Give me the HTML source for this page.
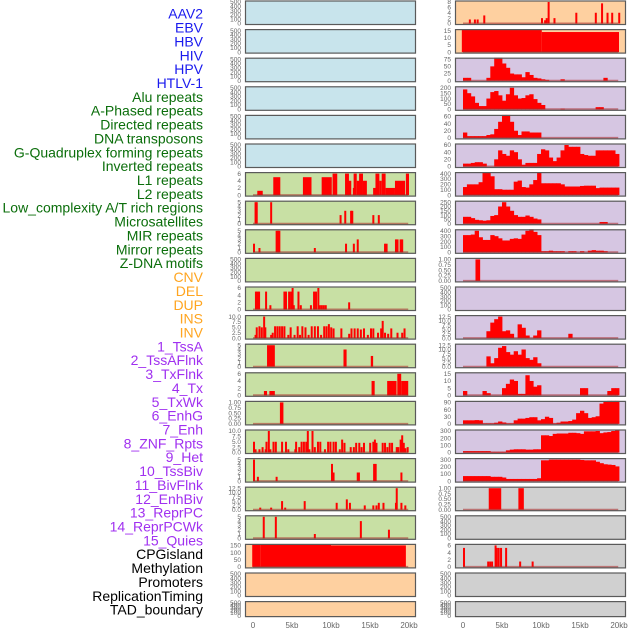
<!DOCTYPE html>
<html><head><meta charset="utf-8">
<style>
html,body{margin:0;padding:0;background:#fff;}
svg{display:block;font-family:"Liberation Sans",sans-serif;}
</style></head>
<body>
<svg id="chart" width="630" height="630" viewBox="0 0 630 630" xmlns="http://www.w3.org/2000/svg"></svg>
<script>
// ---------- labels ----------
const trackLabels = ["AAV2","EBV","HBV","HIV","HPV","HTLV-1","Alu repeats","A-Phased repeats","Directed repeats","DNA transposons","G-Quadruplex forming repeats","Inverted repeats","L1 repeats","L2 repeats","Low_complexity A/T rich regions","Microsatellites","MIR repeats","Mirror repeats","Z-DNA motifs","CNV","DEL","DUP","INS","INV","1_TssA","2_TssAFlnk","3_TxFlnk","4_Tx","5_TxWk","6_EnhG","7_Enh","8_ZNF_Rpts","9_Het","10_TssBiv","11_BivFlnk","12_EnhBiv","13_ReprPC","14_ReprPCWk","15_Quies","CPGisland","Methylation","Promoters","ReplicationTiming","TAD_boundary"];
const labelGroups = [6,13,5,15,5];
const xTickLabels = ["0","5kb","10kb","15kb","20kb"];
const xTickKb = [0,5,10,15,20];

// ---------- tick arrays ----------
const T500 = [0,100,200,300,400,500];
const T6 = [0,2,4,6];
const T5 = [0,1,2,3,4,5];
const T10 = [0.0,2.5,5.0,7.5,10.0];
const T125 = [0.0,2.5,5.0,7.5,10.0,12.5];
const T1 = [0.00,0.25,0.50,0.75,1.00];
const T150 = [0,50,100,150];
const T8 = [0,2,4,6,8];
const T15 = [0,5,10,15];
const T75 = [0,25,50,75];
const T200 = [0,50,100,150,200];
const T60 = [0,20,40,60];
const T400 = [0,100,200,300,400];
const T250 = [0,50,100,150,200,250];
const T90 = [0,30,60,90];
const T300 = [0,100,200,300];

// ---------- left column data ----------
const L6_start = [0.55,2.6,6.4,8.8,10.2,11.8,12.2,12.8,12.9,13.3,13.6,14.1,15.4,15.7,16.2,16.5,17.0,18.2,19.6];
const L6_end   = [1.25,3.5,7.5,10.1,10.8,12.3,12.6,13.0,13.3,13.7,14.1,14.6,15.8,16.2,16.5,17.0,18.2,19.5,20.0];
const L6_val   = [1.2,5,5,5,6,6,4,2,6,4,6,4,2,6,4,6,2,4,6];

const L7_pos = [0.2,0.35,2.2,11.1,11.7,12.45,12.6,15.3,16.0];
const L7_val = [5,5,5,2,3,3,3,2,2];

const L8_pos = [0.0,0.7,2.9,3.1,3.25,7.8,11.8,12.8,13.3,16.8,17.0,18.2,18.4,18.8,19.0];
const L8_val = [2,1,5,5,5,1,2,2,3,2,2,3,3,3,3];

const L10_pos = [0.25,0.45,0.65,1.55,2.1,3.9,4.1,4.5,4.75,4.95,5.1,5.7,6.0,7.3,7.7,7.95,8.25,8.45,8.7,8.95,9.2,12.2];
const L10_val = [5,5,5,5,1.2,5,5,5,5,6,1.2,5,1.2,1.2,5,5,6,1.2,1.2,1.2,1.2,2];

const L11_pos = [0.2,0.35,0.7,1.0,1.3,1.45,2.2,2.4,2.7,3.0,3.3,3.6,3.9,4.4,4.7,5.2,5.6,5.9,6.2,6.6,7.0,7.4,7.8,8.2,8.6,9.0,9.3,9.6,9.9,10.2,11.2,12.2,12.5,12.9,13.3,13.7,14.1,14.6,15.0,15.3,15.9,16.3,16.5,16.8,17.2,17.6,18.4,19.0,19.3];
const L11_val = [1.5,5,5.5,5,10,5,1.5,2.5,5.5,5.5,5.5,5.5,5.5,1.5,5,1.5,5.5,1.5,5.5,5,1.5,5.5,5.5,5.5,1.5,5.5,5.5,6.5,5,4.5,4.5,2,4.5,4.5,4.5,4,4.5,1.5,4.5,4.5,2.5,4.5,8,2.5,2,4.5,2.5,2.5,4.5];

const L12_start = [1.8,11.6,15.1];
const L12_end   = [2.8,12.0,15.4];
const L12_val   = [5,4,2.5];

const L13_start = [1.4,2.1,15.2,17.2,18.5,19.0];
const L13_end   = [1.8,2.8,15.6,18.4,19.0,19.9];
const L13_val   = [1.2,1.2,4,4,6,4];

const L14_start = [3.45];
const L14_end   = [3.9];
const L14_val   = [1];

const L15_pos = [0.0,0.2,0.7,1.1,1.5,1.6,1.9,2.1,2.5,2.8,3.6,4.1,4.4,5.3,5.4,5.8,6.1,6.4,6.7,6.9,7.1,7.5,7.8,8.2,8.5,9.1,9.5,9.8,10.2,10.5,11.0,11.3,11.6,12.4,12.8,13.1,13.5,13.8,14.1,14.9,15.3,15.5,15.7,16.5,16.8,17.1,17.4,17.7,18.3,18.5,18.8,19.0,19.2,19.4,19.7];
const L15_val = [5,1.5,1.5,2.5,1.5,5,10,1.5,5,5,5,5,1.5,1.5,5,2.5,5,5,5,10,1.5,10,2.5,5,5,1.5,5,5,5,5,1.5,6,4.5,2.5,2.5,4.5,4.5,2.5,4.5,4.5,5,6,4.5,4.5,4.5,2.5,4.5,4.5,2.5,2.5,6,8,4.5,2,2.5];

const L16_pos = [0.0,0.5,2.9,10.0,10.2,13.3,13.45,15.4,15.6,18.9];
const L16_val = [5,1,1,4,2,2,2,4,4,2];

const L17_pos = [0.8,2.2,3.6,4.0,6.5,10.6,11.9,12.3,14.2,15.3,15.7,16.0,16.6,18.2,18.3,18.9,19.4];
const L17_val = [1.2,1.2,5,1.2,5,4,6,4,2.5,2.5,2.5,4,4,4,12.5,4,2.5];

const L18_pos = [1.25,2.8,7.8,13.7,17.3];
const L18_val = [5,5,1,4,2];

const L19_start = [-0.1,1.0,10.0];
const L19_end   = [1.0,10.0,19.6];
const L19_val   = [160,155,150];

// ---------- right column data (40 bins of 0.5kb) ----------
const R0_pos = [0.75,1.4,1.75,2.6,10.0,10.4,10.6,10.85,11.6,14.4,16.9,17.7,18.4,19.0,19.9];
const R0_val = [1.5,1.5,1.5,3,2,1.2,2,8,2,4,4,7.5,4,4,4];

const R1_start = [-0.15,10.1];
const R1_end   = [10.1,20.0];
const R1_val   = [18,14];

const R2_bins = [10,10,0,0,0,0,10,50,90,85,60,45,25,22,22,12,30,20,10,8,5,3,0,0,0,5,0,0,0,0,0,0,0,0,0,0,10,0,0,0];
const R3_bins = [185,150,120,60,30,30,100,160,170,130,80,140,200,130,100,105,130,140,95,60,40,0,0,0,0,5,0,0,0,0,0,0,0,0,20,20,0,0,0,0];
const R4_bins = [15,5,5,5,5,5,8,10,25,45,65,65,45,20,8,18,18,15,15,15,0,0,0,0,0,0,0,0,0,0,0,0,0,0,0,0,0,0,0,0];
const R5_bins = [8,8,10,12,12,8,0,0,20,45,35,30,45,40,20,5,10,10,10,35,48,45,25,15,25,45,60,55,55,55,35,32,30,30,45,45,45,45,45,35];
const R6_bins = [150,200,200,200,240,420,420,350,110,110,100,100,100,250,270,150,140,200,280,450,220,220,220,220,220,200,160,160,160,160,170,175,175,175,130,140,140,140,140,140];
const R7_bins = [80,80,65,45,40,35,40,90,100,200,250,200,150,100,80,80,95,80,60,50,0,0,0,0,0,0,0,0,0,0,0,0,0,0,0,20,20,0,0,0];
const R8_bins = [320,320,330,400,280,230,230,320,300,260,220,220,250,260,250,330,400,440,380,320,20,20,30,20,20,20,0,20,20,0,20,0,30,40,30,30,20,0,0,0];
const R9_start = [1.6];
const R9_end   = [2.2];
const R9_val   = [1];
const R11_bins = [0,0,0,0,0,0,4,9,11,12.5,4,4.5,2.5,0,8,6,1.5,0,1.5,4.5,0,0,0,0,0,0,0,2.5,0,0,0,0,0,0,0,0,0,0,0,0];
const R12_bins = [0,0,0,0,0,0,6,2,5,11,12,8.5,7,9,7,10,5,4,5.5,2,0,0,0,0,0,0,0,0,0,0,0,0,0,0,0,0,0,0,0,0];
const R13_bins = [3,0,0,0,0,3,1.5,0,0,0,5,8,11,10,1,1,14,10,6,7,0,0,0,0,0,0,0,0,0,0,5,5,0,0,0,0,0,3,5,5];
const R14_bins = [15,15,15,16,15,2,2,2,5,10,6,2,2,15,22,22,25,28,28,15,20,30,25,2,5,10,10,12,18,45,55,45,25,28,32,85,95,100,102,100];
const R15_bins = [20,20,20,20,20,20,20,10,10,10,10,30,40,45,45,45,40,40,45,45,240,240,230,260,265,265,265,275,275,270,260,295,295,295,300,270,280,285,300,320];
const R16_bins = [70,70,70,70,70,70,70,60,60,60,50,30,30,30,30,30,30,30,30,40,290,290,300,300,300,300,300,300,300,300,295,290,290,290,270,250,235,230,225,205];
const R17_start = [3.3,7.1];
const R17_end   = [4.9,7.8];
const R17_val   = [1,1];
const R19_pos = [0.0,3.1,3.35,3.6,4.05,4.2,4.45,4.75,5.4,7.2,8.8];
const R19_val = [5.3,1.5,1.5,1.5,6,5.3,5.3,5.3,5.3,1.5,1.5];

// ---------- panel layout (column, row, background, ticks, data) ----------
const BG = {blue:"#c8e4ec", green:"#c8e0a4", orange:"#fed0a0", purple:"#d6c6e2", gray:"#d0d0d0"};
const panels = [];
for (let r=0;r<6;r++) panels.push({c:0,r:r,bg:"blue",ticks:T500});
panels.push({c:0,r:6,bg:"green",ticks:T6,blocks:[L6_start,L6_end,L6_val]});
panels.push({c:0,r:7,bg:"green",ticks:T5,spikes:[L7_pos,L7_val]});
panels.push({c:0,r:8,bg:"green",ticks:T5,spikes:[L8_pos,L8_val]});
panels.push({c:0,r:9,bg:"green",ticks:T500});
panels.push({c:0,r:10,bg:"green",ticks:T6,spikes:[L10_pos,L10_val]});
panels.push({c:0,r:11,bg:"green",ticks:T10,spikes:[L11_pos,L11_val]});
panels.push({c:0,r:12,bg:"green",ticks:T5,blocks:[L12_start,L12_end,L12_val]});
panels.push({c:0,r:13,bg:"green",ticks:T6,blocks:[L13_start,L13_end,L13_val]});
panels.push({c:0,r:14,bg:"green",ticks:T1,blocks:[L14_start,L14_end,L14_val]});
panels.push({c:0,r:15,bg:"green",ticks:T10,spikes:[L15_pos,L15_val]});
panels.push({c:0,r:16,bg:"green",ticks:T5,spikes:[L16_pos,L16_val]});
panels.push({c:0,r:17,bg:"green",ticks:T125,spikes:[L17_pos,L17_val]});
panels.push({c:0,r:18,bg:"green",ticks:T5,spikes:[L18_pos,L18_val]});
panels.push({c:0,r:19,bg:"orange",ticks:T150,blocks:[L19_start,L19_end,L19_val]});
panels.push({c:0,r:20,bg:"orange",ticks:T500});
panels.push({c:0,r:21,bg:"orange",ticks:T500});
panels.push({c:1,r:0,bg:"orange",ticks:T8,spikes:[R0_pos,R0_val]});
panels.push({c:1,r:1,bg:"orange",ticks:T15,blocks:[R1_start,R1_end,R1_val]});
panels.push({c:1,r:2,bg:"purple",ticks:T75,bins:R2_bins});
panels.push({c:1,r:3,bg:"purple",ticks:T200,bins:R3_bins});
panels.push({c:1,r:4,bg:"purple",ticks:T60,bins:R4_bins});
panels.push({c:1,r:5,bg:"purple",ticks:T60,bins:R5_bins});
panels.push({c:1,r:6,bg:"purple",ticks:T400,bins:R6_bins});
panels.push({c:1,r:7,bg:"purple",ticks:T250,bins:R7_bins});
panels.push({c:1,r:8,bg:"purple",ticks:T400,bins:R8_bins});
panels.push({c:1,r:9,bg:"purple",ticks:T1,blocks:[R9_start,R9_end,R9_val]});
panels.push({c:1,r:10,bg:"purple",ticks:T500});
panels.push({c:1,r:11,bg:"purple",ticks:T125,bins:R11_bins});
panels.push({c:1,r:12,bg:"purple",ticks:T125,bins:R12_bins});
panels.push({c:1,r:13,bg:"purple",ticks:T15,bins:R13_bins});
panels.push({c:1,r:14,bg:"purple",ticks:T90,bins:R14_bins});
panels.push({c:1,r:15,bg:"purple",ticks:T300,bins:R15_bins});
panels.push({c:1,r:16,bg:"purple",ticks:T300,bins:R16_bins});
panels.push({c:1,r:17,bg:"gray",ticks:T1,blocks:[R17_start,R17_end,R17_val]});
panels.push({c:1,r:18,bg:"gray",ticks:T500});
panels.push({c:1,r:19,bg:"gray",ticks:T6,spikes:[R19_pos,R19_val]});
panels.push({c:1,r:20,bg:"gray",ticks:T500});
panels.push({c:1,r:21,bg:"gray",ticks:T500});

// ---------- drawing ----------
const NS = "http://www.w3.org/2000/svg";
const svg = document.getElementById("chart");
function mk(tag, attrs, parent){
  const e = document.createElementNS(NS, tag);
  for (const k in attrs) e.setAttribute(k, attrs[k]);
  (parent||svg).appendChild(e);
  return e;
}
const COLX = [245,455];
const PW = 171;
const ZERO_OFF = 8;
const KBPX = 7.8;
function rowTop(r){ return 0.5 + r*28.6; }
function rowH(r){ return r===21 ? 16 : 24.5; }
function xScale(c, kb){ return COLX[c] + ZERO_OFF + kb*KBPX; }
function yScale(top, h, maxv, v){ return top + h - 1.5 - (v/maxv)*(h-3); }

// labels
const groupColors = ["#1a1aee","#0b6e0b","#ffa520","#a030f0","#000000"];
let li = 0;
labelGroups.forEach((n,g)=>{
  for (let k=0;k<n;k++){
    const t = mk("text",{x:203,y:15+li*13.86,"text-anchor":"end","dominant-baseline":"middle","font-size":"14",fill:groupColors[g]});
    t.textContent = trackLabels[li];
    
    
    li++;
  }
});

let clipId = 0;
panels.forEach(p=>{
  const top = rowTop(p.r), h = rowH(p.r), x0 = COLX[p.c];
  const g = mk("g",{});
  
  
  const bg = mk("rect",{x:x0,y:top,width:PW,height:h,fill:BG[p.bg]},g);
  
  
  const cid = "clip"+(clipId++);
  const cp = mk("clipPath",{id:cid},g);
  mk("rect",{x:x0,y:top,width:PW,height:h},cp);
  const marks = mk("g",{"clip-path":"url(#"+cid+")"},g);
  const maxv = p.ticks[p.ticks.length-1];
  const y0 = yScale(top,h,maxv,0);
  const hasData = p.blocks || p.spikes || p.bins;
  if (p.bins){
    p.bins.forEach((v,i)=>{
      if (v<=0) return;
      const xa = xScale(p.c, i*0.5), xb = xScale(p.c, i*0.5+0.5);
      const yv = yScale(top,h,maxv,v);
      const b = mk("rect",{x:xa,y:yv,width:xb-xa+0.4,height:y0-yv,fill:"#ff0000"},marks);
      
      
    });
  }
  if (p.blocks){
    const [s,e,v] = p.blocks;
    s.forEach((st,i)=>{
      const xa = xScale(p.c, st), xb = xScale(p.c, e[i]);
      const yv = yScale(top,h,maxv,v[i]);
      const b = mk("rect",{x:xa,y:yv,width:Math.max(1,xb-xa),height:y0-yv,fill:"#ff0000"},marks);
      
      
    });
  }
  if (p.spikes){
    const [pos,v] = p.spikes;
    pos.forEach((ps,i)=>{
      const xa = xScale(p.c, ps);
      const yv = yScale(top,h,maxv,v[i]);
      const b = mk("rect",{x:xa,y:yv,width:2,height:y0-yv,fill:"#ff0000"},marks);
      
      
    });
  }
  if (hasData){
    const bl = mk("line",{x1:xScale(p.c,0),x2:xScale(p.c,19.9),y1:y0,y2:y0,stroke:"rgba(170,40,40,0.55)","stroke-width":"2"},marks);
    
    
  }
  const fr = mk("rect",{x:x0+0.5,y:top+0.5,width:PW-1,height:h-1,fill:"none",stroke:"#5a5a5a","stroke-width":"1.2"},g);
  
  
  // y ticks
  p.ticks.forEach(tv=>{
    const ty = yScale(top,h,maxv,tv);
    const t = mk("text",{x:x0-4,y:ty+2.2,"text-anchor":"end","font-size":"6.5",fill:"#666"},g);
    t.textContent = (maxv===1 || maxv===10 || maxv===12.5) ? tv.toFixed(maxv===1?2:1) : String(tv);
    
    
  });
});

// x axis ticks
[0,1].forEach(c=>{
  xTickKb.forEach((kb,i)=>{
    const t = mk("text",{x:xScale(c,kb),y:628,"text-anchor":"middle","font-size":"8",fill:"#666"});
    t.textContent = xTickLabels[i];
    
    
  });
});
</script>
</body></html>
